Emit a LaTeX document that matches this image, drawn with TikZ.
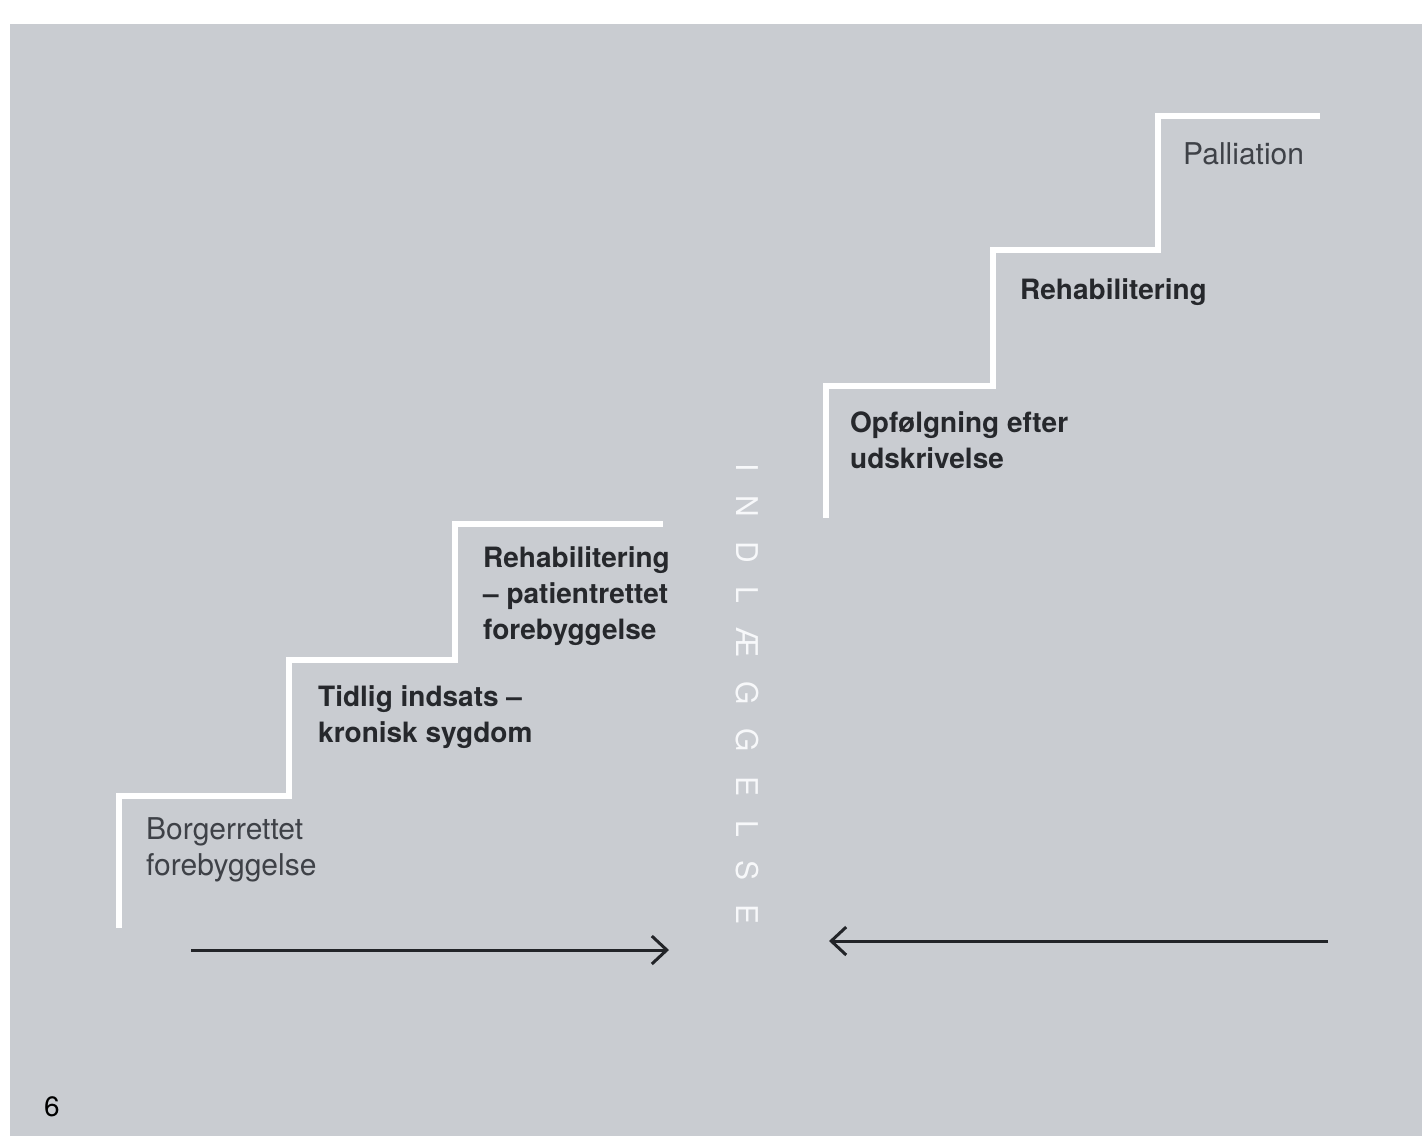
\documentclass[tikz,border=0pt]{standalone}
\usepackage{fontspec}
\setmainfont{TeX Gyre Heros}
\usetikzlibrary{arrows.meta}
\definecolor{bggray}{HTML}{C9CCD1}
\definecolor{boldtxt}{HTML}{26282C}
\definecolor{regtxt}{HTML}{3E4147}
\definecolor{arrowc}{HTML}{222428}
\definecolor{vertc}{HTML}{F7F8FA}
\def\lsp{\kern24pt}
\begin{document}
\begin{tikzpicture}[x=1pt,y=-1pt,
  stair/.style={draw=white,line width=6.5pt,line join=miter},
  boldlbl/.style={anchor=base west,inner sep=0pt,align=left,text=boldtxt,
    font=\fontsize{28}{36}\selectfont\bfseries},
  reglbl/.style={anchor=base west,inner sep=0pt,align=left,text=regtxt,
    font=\fontsize{30}{36}\selectfont},
  flowarrow/.style={draw=arrowc,line width=3pt,
    -{Straight Barb[length=15pt,width=28pt,line width=3pt]}}]
\useasboundingbox (0,0) rectangle (1422,1136);
\fill[white] (0,0) rectangle (1422,1136);
\fill[bggray] (10,24) rectangle (1422,1136);

% left stairs
\draw[stair] (119,928) -- (119,796) -- (289,796) -- (289,660) -- (455,660) -- (455,524) -- (663,524);
% right stairs
\draw[stair] (826,518) -- (826,386) -- (993,386) -- (993,250) -- (1158,250) -- (1158,116) -- (1320,116);

% labels (base anchor = baseline of the last line)
\node[reglbl] (borger) at (146,875) {Borgerrettet\\forebyggelse};
\node[boldlbl] (tidlig) at (318,742) {Tidlig indsats –\\kronisk sygdom};
\node[boldlbl] (rehab1) at (483,639) {Rehabilitering\\– patientrettet\\forebyggelse};
\node[boldlbl] (opf) at (850,468) {Opfølgning efter\\udskrivelse};
\node[boldlbl] (rehab2) at (1020,299) {Rehabilitering};
\node[reglbl] (pall) at (1183,164) {Palliation};
\node[anchor=base west,inner sep=0pt,text=black,font=\fontsize{28}{34}\selectfont] (page) at (44,1116) {6};

% vertical word
\node[rotate=-90,inner sep=0pt,text=vertc,font=\fontsize{30}{34}\selectfont] (indl) at (747,694)
  {I\lsp N\lsp D\lsp L\lsp Æ\lsp G\lsp G\lsp E\lsp L\lsp S\lsp E};

% arrows
\coordinate (la) at (191,950);
\coordinate (lb) at (669,950);
\coordinate (ra) at (1328,941);
\coordinate (rb) at (829,941);
\draw[flowarrow] (la) -- (lb);
\draw[flowarrow] (ra) -- (rb);
\end{tikzpicture}
\end{document}
